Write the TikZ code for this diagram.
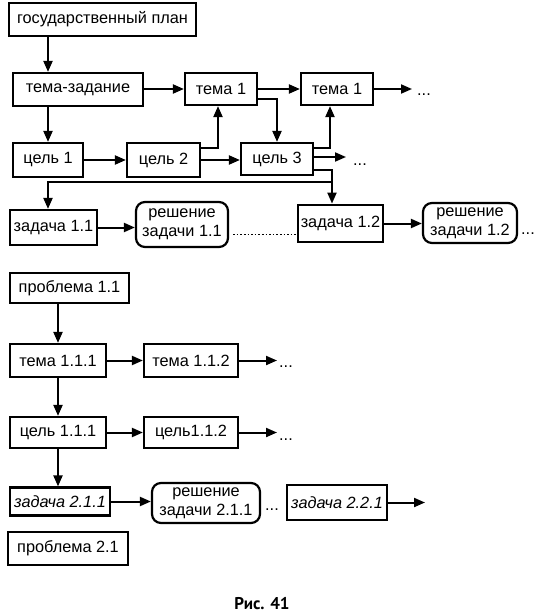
\documentclass[tikz,border=0pt]{standalone}
\usepackage{fontspec}
\setmainfont{Liberation Sans}
\newfontfamily\capfont{PT Sans}
\usetikzlibrary{arrows.meta,calc}
\newcommand\dfont{\fontsize{16.3}{19}\selectfont}
\begin{document}
\begin{tikzpicture}[x=1pt,y=-1pt,
  box/.style={draw,line width=2.2pt,inner sep=0pt,font=\dfont,align=center},
  rbox/.style={box,rounded corners=9pt},
  arr/.style={line width=2pt,-{Triangle[length=11pt,width=9pt]}},
  dotline/.style={line width=1.6pt,dotted},
  dts/.style={font=\dfont,inner sep=0pt}]
\useasboundingbox (0,0) rectangle (539,615);
% top part
\node[box,minimum width=187pt,minimum height=33pt] (gp) at (102.5,19.5) {государственный план};
\node[box,minimum width=130pt,minimum height=33pt] (tz) at (78,89.5) {тема-задание};
\node[box,minimum width=72pt,minimum height=32pt] (t1) at (221,89) {тема 1};
\node[box,minimum width=72pt,minimum height=32pt] (t1b) at (337,89) {тема 1};
\node[box,minimum width=70pt,minimum height=34pt] (c1) at (48,160) {цель 1};
\node[box,minimum width=73pt,minimum height=34pt] (c2) at (163.5,160) {цель 2};
\node[box,minimum width=72pt,minimum height=32pt] (c3) at (277,159) {цель 3};
\node[box,minimum width=87pt,minimum height=35pt] (z11) at (53.5,227.5) {задача 1.1};
\node[rbox,minimum width=92pt,minimum height=45pt] (r11) at (182,224.5) {решение\\задачи 1.1};
\node[box,line width=2.8pt,minimum width=85pt,minimum height=37pt] (z12) at (340.5,223.5) {задача 1.2};
\node[rbox,minimum width=94pt,minimum height=40pt] (r12) at (470,223) {решение\\задачи 1.2};
\node[dts] (d1) at (424,95) {...};
\node[dts] (d2) at (360,165) {...};
\node[dts] (d3) at (528,234) {...};
\coordinate (e1) at (412,89);
\coordinate (e2) at (346,157);
% top connectors
\draw[arr] (gp.south -| c1) -- (tz.north -| c1);
\draw[arr] (tz.east |- t1) -- (t1.west);
\draw[arr] (tz.south -| c1) -- (c1.north);
\draw[arr] (c1) -- (c2);
\draw[arr] ($(c2.east)+(0,-12)$) -| ($(t1.south)+(-3,0)$);
\draw[arr] (c2.east) -- (c2.east -| c3.west);
\draw[arr] (t1) -- (t1b);
\draw[arr] ($(t1.east)+(0,10)$) -| (c3.north);
\draw[arr] ($(c3.east)+(0,-11)$) -| ($(t1b.south)+(-7,0)$);
\draw[arr] ($(c3.east)+(0,-2)$) -- (e2);
\draw[arr] (t1b) -- (e1);
\draw[arr] ($(c3.east)+(0,11)$) -| ($(z12.north)+(-8.5,0)$);
\coordinate (br) at ($(z12.north)+(-8.5,-22)$);
\draw[arr] (br) -| (z11.north -| c1);
\draw[arr] (z11.east) -- (z11.east -| r11.west);
\coordinate (ds) at ($(r11.east)+(4,10)$);
\draw[dotline] (ds) -- (ds -| z12.west);
\draw[arr] (z12.east) -- (z12.east -| r12.west);
% lower part
\node[box,minimum width=119pt,minimum height=30pt] (p11) at (69.5,288) {проблема 1.1};
\node[box,minimum width=96pt,minimum height=33pt] (t111) at (58,360.5) {тема 1.1.1};
\node[box,minimum width=94pt,minimum height=33pt] (t112) at (191,360.5) {тема 1.1.2};
\node[box,minimum width=96pt,minimum height=31pt] (c111) at (58,432.5) {цель 1.1.1};
\node[box,minimum width=94pt,minimum height=31pt] (c112) at (191,432.5) {цель1.1.2};
\node[box,minimum width=100pt,minimum height=28pt] (z211) at (60,501.5) {\itshape задача 2.1.1};
\node[rbox,minimum width=108pt,minimum height=40pt] (r211) at (206,503) {решение\\задачи 2.1.1};
\node[box,minimum width=100pt,minimum height=35pt] (z221) at (337,502.5) {\itshape задача 2.2.1};
\node[box,minimum width=120pt,minimum height=33pt] (p21) at (68,548.5) {проблема 2.1};
\node[dts] (d4) at (286,367) {...};
\node[dts] (d5) at (286,440) {...};
\node[dts] (d6) at (272,510) {...};
\coordinate (e3) at (277,360.5);
\coordinate (e4) at (277,432.5);
\coordinate (e5) at (425,502.5);
\draw[arr] (p11.south -| t111) -- (t111.north);
\draw[arr] (t111) -- (t112);
\draw[arr] (t112) -- (e3);
\draw[arr] (t111) -- (c111);
\draw[arr] (c111) -- (c112);
\draw[arr] (c112) -- (e4);
\draw[arr] (c111.south) -- (z211.north -| c111);
\draw[arr] (z211.east) -- (z211.east -| r211.west);
\draw[arr] (z221) -- (e5);
\node[font=\capfont\bfseries\fontsize{17}{20}\selectfont] (cap) at (262,604) {Рис. 41};
\end{tikzpicture}
\end{document}
